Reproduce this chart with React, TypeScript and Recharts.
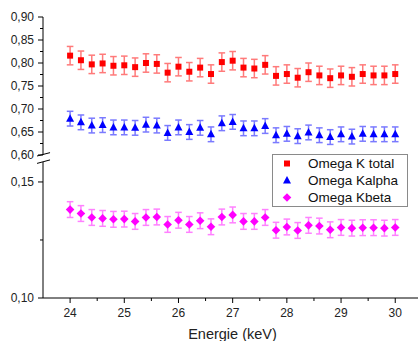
import React from 'react'
import { ScatterChart, Scatter, XAxis, YAxis, ErrorBar, ReferenceLine, Legend } from 'recharts'

// energies in keV, step 0.2
const energies = [
	24, 24.2, 24.4, 24.6, 24.8, 25, 25.2, 25.4, 25.6, 25.8, 26, 26.2, 26.4, 26.6, 26.8, 27, 27.2, 27.4, 27.6, 27.8, 28,
	28.2, 28.4, 28.6, 28.8, 29, 29.2, 29.4, 29.6, 29.8, 30,
]
const omegaKTotal = [
	0.816, 0.806, 0.797, 0.799, 0.794, 0.795, 0.791, 0.8, 0.798, 0.779, 0.792, 0.781, 0.79, 0.776, 0.802, 0.805, 0.79,
	0.788, 0.796, 0.772, 0.776, 0.768, 0.78, 0.773, 0.767, 0.773, 0.77, 0.776, 0.773, 0.773, 0.776,
]
const omegaKalpha = [
	0.679, 0.671, 0.664, 0.665, 0.66, 0.66, 0.659, 0.666, 0.664, 0.648, 0.66, 0.65, 0.659, 0.645, 0.669, 0.672, 0.658,
	0.658, 0.663, 0.643, 0.646, 0.641, 0.649, 0.643, 0.639, 0.645, 0.64, 0.646, 0.645, 0.645, 0.645,
]
const omegaKbeta = [
	0.1381, 0.1364, 0.1347, 0.1343, 0.1339, 0.134, 0.133, 0.1347, 0.1349, 0.1317, 0.1335, 0.1317, 0.1333, 0.1307, 0.1349,
	0.1358, 0.133, 0.133, 0.1347, 0.1292, 0.1306, 0.1291, 0.1313, 0.131, 0.1294, 0.1304, 0.1301, 0.1303, 0.1303, 0.1301,
	0.1304,
]
const errKTotal = 0.02
const errKalpha = 0.016
const errKbeta = 0.0034

const xTicks = [24, 24.5, 25, 25.5, 26, 26.5, 27, 27.5, 28, 28.5, 29, 29.5, 30]
const upperTicks = [0.6, 0.625, 0.65, 0.675, 0.7, 0.725, 0.75, 0.775, 0.8, 0.825, 0.85, 0.875, 0.9]
const lowerTicks = [0.1, 0.125, 0.15]

const series = [
	{ name: 'Omega K total', color: '#ff0000', bar: '#ff7a7a', marker: 'square' },
	{ name: 'Omega Kalpha', color: '#0000ff', bar: '#7a7aff', marker: 'triangle' },
	{ name: 'Omega Kbeta', color: '#ff00ff', bar: '#ff80ff', marker: 'diamond' },
]

const build = (vals: number[], err: number) => energies.map((x, i) => ({ x, y: vals[i], err }))
const kTotalData = build(omegaKTotal, errKTotal)
const kAlphaData = build(omegaKalpha, errKalpha)
const kBetaData = build(omegaKbeta, errKbeta)

const font = 'Arial, "Liberation Sans", sans-serif'
const X_DOMAIN = [23.5, 30.42]

const marker = (type: string, cx: number, cy: number, fill: string) => {
	if (type === 'square') return <rect x={cx - 3} y={cy - 3} width={6} height={6} fill={fill} />
	if (type === 'triangle')
		return <polygon points={`${cx},${cy - 4.5} ${cx + 4},${cy + 3} ${cx - 4},${cy + 3}`} fill={fill} />
	return <polygon points={`${cx},${cy - 4.3} ${cx + 4.3},${cy} ${cx},${cy + 4.3} ${cx - 4.3},${cy}`} fill={fill} />
}

const shapeFor = (type: string, fill: string) => (p: any) => marker(type, p.cx, p.cy, fill)

const fmt = (v: number) => v.toFixed(2).replace('.', ',')
const isMajor = (v: number, step: number) => Math.abs(v / step - Math.round(v / step)) < 1e-6

const YTick = (props: any) => {
	const { x, y, payload } = props
	const major = isMajor(payload.value, 0.05)
	return (
		<g>
			<line x1={x} x2={x - (major ? 5 : 3)} y1={y} y2={y} stroke="#000" />
			{major && (
				<text x={x - 9} y={y + 4.3} textAnchor="end" fontSize={12} fill="#222" fontFamily={font}>
					{fmt(payload.value)}
				</text>
			)}
		</g>
	)
}

const XTick = (props: any) => {
	const { x, y, payload } = props
	const major = isMajor(payload.value, 1)
	return (
		<g>
			<line x1={x} x2={x} y1={y} y2={y + (major ? 5 : 3)} stroke="#000" />
			{major && (
				<text x={x} y={y + 18.5} textAnchor="middle" fontSize={12} fill="#222" fontFamily={font}>
					{payload.value}
				</text>
			)}
		</g>
	)
}

const LegendBox = () => (
	<div
		style={{
			width: 136,
			height: 53,
			border: '1px solid #8a8a8a',
			boxSizing: 'border-box',
			background: '#fff',
			fontFamily: font,
			fontSize: 13.5,
			color: '#111',
		}}
	>
		{series.map((s) => (
			<div key={s.name} style={{ display: 'flex', alignItems: 'center', height: 17 }}>
				<svg width={10} height={17} style={{ marginLeft: 9 }}>
					{marker(s.marker, 5, 8.5, s.color)}
				</svg>
				<span style={{ marginLeft: 16, whiteSpace: 'nowrap' }}>{s.name}</span>
			</div>
		))}
	</div>
)

export default function App() {
	return (
		<div style={{ position: 'absolute', left: 0, top: 0, width: 418, height: 341, background: '#fff', fontFamily: font }}>
			<div style={{ position: 'absolute', left: 0, top: 0 }}>
				<ScatterChart width={418} height={172} margin={{ top: 17, right: 0, bottom: 17, left: 0 }}>
					<XAxis type="number" dataKey="x" domain={X_DOMAIN} hide allowDataOverflow />
					<YAxis
						type="number"
						dataKey="y"
						domain={[0.6, 0.9]}
						ticks={upperTicks}
						interval={0}
						width={43}
						tickSize={0}
						tickMargin={0}
						tickLine={false}
						tick={<YTick />}
						stroke="#000"
						allowDataOverflow
					/>
					<ReferenceLine
						segment={[
							{ x: 23.39, y: 0.5978 },
							{ x: 23.63, y: 0.6051 },
						]}
						stroke="#000"
						ifOverflow="visible"
					/>
					<Scatter data={kTotalData} dataKey="y" isAnimationActive={false} shape={shapeFor('square', '#ff0000')}>
						<ErrorBar dataKey="err" direction="y" width={3.3} stroke="#ff7a7a" />
					</Scatter>
					<Scatter data={kAlphaData} dataKey="y" isAnimationActive={false} shape={shapeFor('triangle', '#0000ff')}>
						<ErrorBar dataKey="err" direction="y" width={3.3} stroke="#7a7aff" />
					</Scatter>
				</ScatterChart>
			</div>
			<div style={{ position: 'absolute', left: 0, top: 148 }}>
				<ScatterChart width={418} height={193} margin={{ top: 14, right: 0, bottom: 0, left: 0 }}>
					<XAxis
						type="number"
						dataKey="x"
						domain={X_DOMAIN}
						ticks={xTicks}
						interval={0}
						height={43}
						tickSize={0}
						tickMargin={0}
						tickLine={false}
						tick={<XTick />}
						stroke="#000"
						allowDataOverflow
						label={{ value: 'Energie (keV)', position: 'insideBottom', offset: 2, dx: 2, fontSize: 14.5, fill: '#222' }}
					/>
					<YAxis
						type="number"
						dataKey="y"
						domain={[0.1, 0.1586]}
						ticks={lowerTicks}
						interval={0}
						width={43}
						tickSize={0}
						tickMargin={0}
						tickLine={false}
						tick={<YTick />}
						stroke="#000"
						allowDataOverflow
					/>
					<ReferenceLine
						segment={[
							{ x: 23.39, y: 0.158 },
							{ x: 23.63, y: 0.1595 },
						]}
						stroke="#000"
						ifOverflow="visible"
					/>
					<Legend
						layout="vertical"
						align="center"
						verticalAlign="middle"
						wrapperStyle={{ top: 6, left: 272, width: 136 }}
						content={() => <LegendBox />}
					/>
					<Scatter data={kBetaData} dataKey="y" isAnimationActive={false} shape={shapeFor('diamond', '#ff00ff')}>
						<ErrorBar dataKey="err" direction="y" width={3.3} stroke="#ff80ff" />
					</Scatter>
				</ScatterChart>
			</div>
		</div>
	)
}
